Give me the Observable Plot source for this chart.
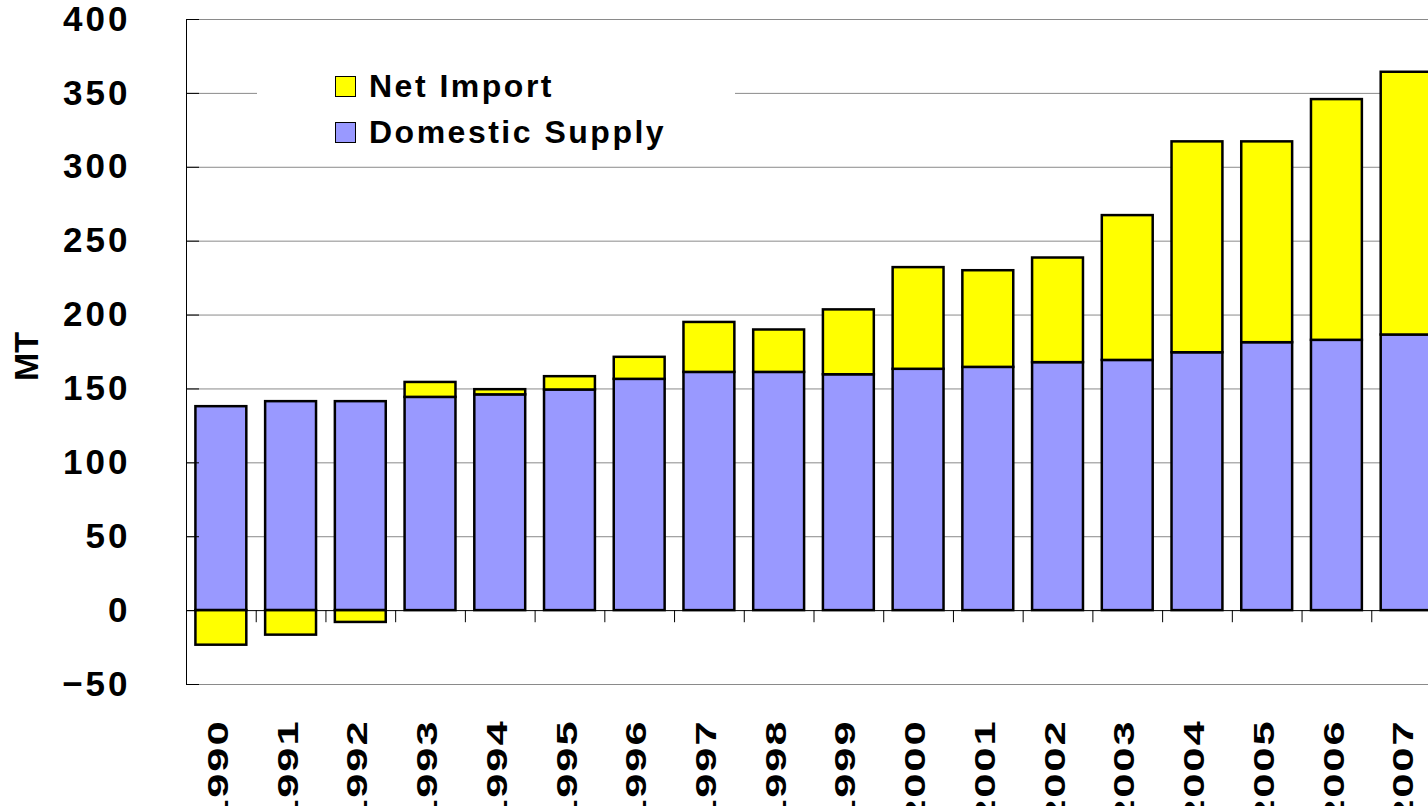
<!DOCTYPE html>
<html><head><meta charset="utf-8">
<script src="https://cdn.jsdelivr.net/npm/d3@7"></script>
<script src="https://cdn.jsdelivr.net/npm/@observablehq/plot@0.6"></script>
<style>
html,body{margin:0;padding:0;background:#fff;overflow:hidden;width:1428px;height:806px}
#wrap{position:relative;width:1428px;height:806px;overflow:hidden}
#chart svg{display:block;max-width:none !important;height:806px !important}
#legend{position:absolute;left:257px;top:56px;width:478px;height:96px;background:#fff;font-family:"Liberation Sans",Arial,sans-serif;font-weight:bold;font-size:32px;letter-spacing:2.5px;color:#000}
.row{position:absolute;left:78px;height:22px;display:flex;align-items:center;white-space:nowrap}
.sw{width:19px;height:19px;border:1.5px solid #000;margin-right:13px;flex:none}
g[aria-label="y-axis tick label"] text{letter-spacing:3px}
g[aria-label="x-axis tick label"] text{letter-spacing:1.3px}
</style></head>
<body>
<div id="wrap">
  <div id="chart"></div>
  <div id="legend"></div>
</div>
<script>
const years = ["1990","1991","1992","1993","1994","1995","1996","1997","1998","1999","2000","2001","2002","2003","2004","2005","2006","2007"];
const domestic = [138, 141.4, 141.4, 144.3, 146, 149.3, 156.5, 161.2, 161.2, 159.6, 163.3, 164.6, 167.8, 169.3, 174.5, 181.3, 182.9, 186.5];
const netImport = [-23.4, -16.6, -8, 10.1, 3.5, 9, 14.9, 33.8, 28.7, 43.9, 68.8, 65.4, 70.8, 98, 142.7, 135.9, 162.9, 177.8];
const yTicks = [-50, 0, 50, 100, 150, 200, 250, 300, 350, 400];
const seriesNames = ["Domestic Supply", "Net Import"];
const seriesColors = ["#9999FF", "#FFFF00"];
const legendOrder = ["Net Import", "Domestic Supply"];
const yLabel = "MT";

const data = years.flatMap((y, i) => [
  {year: y, series: seriesNames[0], value: domestic[i]},
  {year: y, series: seriesNames[1], value: netImport[i]}
]);

const W = 1460, ML = 186, MR = 19;
const step = (W - ML - MR) / years.length;

const chart = Plot.plot({
  width: W, height: 806,
  marginLeft: ML, marginRight: MR, marginTop: 19, marginBottom: 122,
  style: {fontFamily: "'Liberation Sans', Arial, sans-serif", background: "#fff", color: "#000", maxWidth: "none"},
  x: {domain: years, paddingInner: 0.27, paddingOuter: 0.135, round: false, label: null},
  y: {domain: [-50, 400], label: null},
  color: {domain: seriesNames, range: seriesColors},
  marks: [
    Plot.ruleY(yTicks.filter(d => d !== 0), {stroke: "#8a8a8a", strokeWidth: 1}),
    Plot.barY(data, {x: "year", y: "value", fill: "series", stroke: "#000", strokeWidth: 2.5}),
    Plot.ruleY([0], {stroke: "#000", strokeWidth: 1}),
    Plot.ruleX(years, {x: d => d, y1: 0, y2: -8.2, dx: -step / 2, stroke: "#000", strokeWidth: 1}),
    Plot.ruleX([years[0]], {x: d => d, y1: -50, y2: 400, dx: -step / 2, stroke: "#000", strokeWidth: 1}),
    Plot.axisY({ticks: yTicks, tickSize: 13, dx: 13, tickPadding: 56, fontSize: 35, fontWeight: "bold", label: null, tickFormat: d => d < 0 ? "\u2212" + Math.abs(d) : String(d)}),
    Plot.axisX({tickSize: 0, tickPadding: 35, tickRotate: -90, dx: -3, fontSize: 30, fontWeight: "bold", label: null}),
    Plot.text([yLabel], {frameAnchor: "left", dx: -159, dy: 29, rotate: -90, fontSize: 34, fontWeight: "bold", text: d => d})
  ]
});
document.getElementById("chart").appendChild(chart);

// the reference draws the rotated year labels stretched along their reading direction
chart.querySelectorAll('g[aria-label="x-axis tick label"] text').forEach(t => {
  const tr = t.getAttribute("transform") || "";
  t.setAttribute("transform", tr + " scale(1.45,1)");
});

const legend = document.getElementById("legend");
legendOrder.forEach((name, i) => {
  const row = document.createElement("div");
  row.className = "row";
  row.style.top = (19 + i * 46) + "px";
  const sw = document.createElement("div");
  sw.className = "sw";
  sw.style.background = seriesColors[seriesNames.indexOf(name)];
  const t = document.createElement("span");
  t.textContent = name;
  row.appendChild(sw);
  row.appendChild(t);
  legend.appendChild(row);
});
</script>
</body></html>
